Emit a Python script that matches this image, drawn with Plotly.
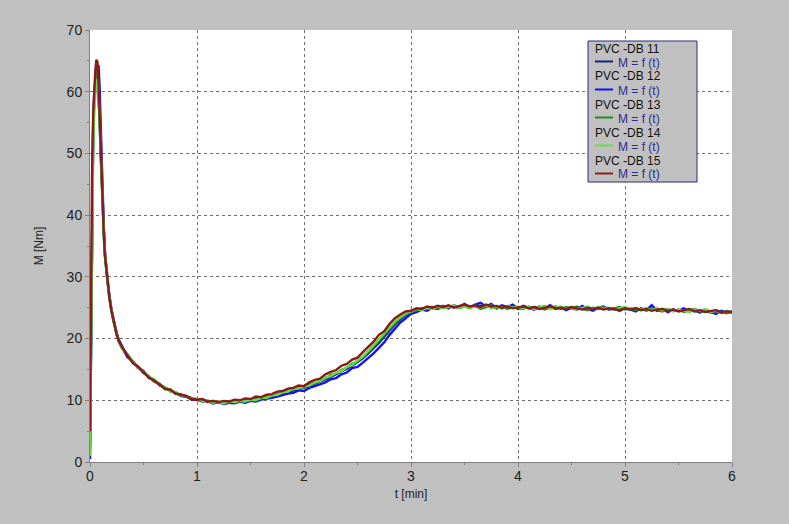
import plotly.graph_objects as go

# time axis [min]
t = [0, 0.01, 0.02, 0.03, 0.04, 0.05, 0.06, 0.07, 0.08, 0.09, 0.10, 0.11, 0.12, 0.13, 0.14,
     0.16, 0.18, 0.20, 0.22, 0.25, 0.27,
     0.30, 0.35, 0.40, 0.45, 0.50, 0.55, 0.60, 0.65, 0.70, 0.75, 0.80, 0.85, 0.90, 0.95,
     1.00, 1.05, 1.10, 1.15, 1.20, 1.25, 1.30, 1.35, 1.40, 1.45, 1.50, 1.55, 1.60, 1.65, 1.70, 1.75, 1.80, 1.85, 1.90, 1.95,
     2.00, 2.05, 2.10, 2.15, 2.20, 2.25, 2.30, 2.35, 2.40, 2.45, 2.50, 2.55, 2.60, 2.65, 2.70, 2.75, 2.80, 2.85, 2.90, 2.95,
     3.00, 3.05, 3.10, 3.15, 3.20, 3.25, 3.30, 3.35, 3.40, 3.45, 3.50, 3.55, 3.60, 3.65, 3.70, 3.75, 3.80, 3.85, 3.90, 3.95,
     4.00, 4.05, 4.10, 4.15, 4.20, 4.25, 4.30, 4.35, 4.40, 4.45, 4.50, 4.55, 4.60, 4.65, 4.70, 4.75, 4.80, 4.85, 4.90, 4.95,
     5.00, 5.05, 5.10, 5.15, 5.20, 5.25, 5.30, 5.35, 5.40, 5.45, 5.50, 5.55, 5.60, 5.65, 5.70, 5.75, 5.80, 5.85, 5.90, 5.95,
     6.00]

db11 = [3.0, 25.0, 46.0, 55.0, 60.0, 62.5, 64.0, 63.5, 60.5, 55.5, 50.0, 45.0, 40.5, 36.5, 33.5, 29.8, 26.8, 24.6, 22.8, 20.6, 19.6,
        18.5, 17.1, 16.2, 15.3, 14.5, 13.8, 13.1, 12.6, 12.0, 11.6, 11.2, 10.8, 10.6, 10.3,
        10.1, 9.9, 9.9, 9.7, 9.7, 9.6, 9.7, 9.7, 9.9, 9.8, 10.0, 10.0, 10.2, 10.4, 10.6, 10.8, 11.1, 11.3, 11.6, 11.8,
        12.1, 12.3, 12.7, 13.0, 13.4, 13.8, 14.2, 14.6, 15.1, 15.6, 16.2, 16.8, 17.6, 18.4, 19.3, 20.3, 21.3, 22.3, 23.1, 23.8,
        24.2, 24.6, 24.8, 24.9, 25.1, 25.0, 25.2, 25.1, 25.3, 25.1, 25.3, 25.2, 25.2, 25.3, 25.1, 25.3, 25.0, 25.2, 25.0, 25.2,
        25.0, 25.1, 24.9, 25.1, 24.9, 25.0, 25.1, 24.9, 25.0, 24.9, 25.0, 24.8, 25.0, 24.9, 24.8, 24.9, 24.9, 24.8, 24.8, 24.7,
        24.9, 24.7, 24.8, 24.7, 24.7, 24.8, 24.6, 24.7, 24.6, 24.6, 24.6, 24.5, 24.6, 24.5, 24.4, 24.5, 24.4, 24.4, 24.3, 24.3,
        24.2]

db12 = [0.5, 20.0, 42.0, 53.0, 58.5, 61.5, 63.0, 63.8, 64.3, 60.5, 54.0, 47.5, 42.0, 37.5, 34.0, 30.0, 27.0, 24.8, 23.0, 20.8, 19.8,
        18.8, 17.0, 16.4, 15.2, 14.8, 13.6, 13.3, 12.4, 12.1, 11.5, 11.3, 10.7, 10.6, 10.1,
        10.2, 9.8, 9.9, 9.5, 9.7, 9.4, 9.6, 9.5, 9.8, 9.6, 9.9, 9.8, 10.1, 10.2, 10.4, 10.6, 10.9, 11.1, 11.2, 11.6,
        11.5, 12.0, 12.3, 12.6, 12.9, 13.4, 13.6, 14.2, 14.5, 15.2, 15.4, 16.1, 16.8, 17.6, 18.5, 19.4, 20.6, 21.6, 22.6, 23.3,
        24.0, 24.3, 24.7, 24.5, 25.0, 24.8, 25.3, 24.9, 25.4, 25.1, 25.6, 25.0, 25.5, 25.8, 25.2, 25.6, 24.9, 25.4, 25.1, 25.5,
        24.8, 25.3, 25.0, 24.7, 25.2, 24.9, 25.4, 24.8, 25.1, 24.6, 25.0, 24.7, 25.3, 24.8, 24.5, 25.0, 25.2, 24.7, 24.9, 24.5,
        25.0, 24.7, 24.4, 24.9, 24.6, 25.4, 24.5, 24.8, 24.3, 24.7, 24.5, 24.9, 24.4, 24.6, 24.2, 24.7, 24.4, 24.0, 24.5, 24.2,
        24.4]

db13 = [2.0, 24.0, 45.0, 54.5, 59.0, 62.0, 63.5, 62.5, 59.5, 55.0, 49.5, 44.5, 40.0, 36.2, 33.2, 29.6, 26.6, 24.4, 22.6, 20.5, 19.4,
        18.4, 17.4, 16.0, 15.5, 14.4, 13.9, 13.0, 12.7, 11.8, 11.8, 11.0, 11.0, 10.5, 10.4,
        10.0, 10.1, 9.7, 9.9, 9.6, 9.8, 9.6, 9.9, 9.7, 10.0, 10.0, 10.2, 10.3, 10.6, 10.7, 11.1, 11.2, 11.6, 11.7, 12.1,
        12.0, 12.6, 12.8, 13.2, 13.5, 14.1, 14.3, 14.9, 15.3, 15.9, 16.3, 17.0, 17.8, 18.7, 19.6, 20.6, 21.6, 22.5, 23.3, 23.9,
        24.3, 24.6, 24.9, 24.8, 25.1, 24.9, 25.2, 25.0, 25.3, 24.9, 25.2, 25.0, 25.3, 24.8, 25.1, 25.4, 24.9, 25.2, 24.8, 25.1,
        25.0, 24.8, 25.2, 24.9, 25.1, 24.7, 25.0, 25.2, 24.8, 25.1, 24.9, 25.2, 24.8, 24.6, 25.0, 24.8, 25.1, 24.7, 24.9, 25.1,
        24.7, 24.9, 24.6, 24.8, 24.5, 24.9, 24.6, 24.4, 24.8, 24.5, 24.7, 24.3, 24.6, 24.8, 24.4, 24.5, 24.2, 24.6, 24.3, 24.1,
        24.4]

db14 = [1.0, 18.0, 40.0, 51.0, 57.0, 60.5, 62.0, 61.8, 60.0, 56.0, 50.5, 45.5, 41.0, 37.0, 33.8, 30.0, 27.0, 24.7, 22.9, 20.7, 19.5,
        18.3, 17.5, 16.3, 15.1, 14.7, 13.8, 13.4, 12.5, 12.2, 11.4, 11.3, 10.8, 10.7, 10.3,
        10.3, 9.9, 10.0, 9.6, 9.8, 9.5, 9.9, 9.7, 10.0, 9.8, 10.1, 10.0, 10.4, 10.4, 10.8, 10.9, 11.3, 11.4, 11.9, 11.9,
        12.3, 12.4, 12.9, 13.1, 13.7, 13.9, 14.5, 14.7, 15.4, 15.7, 16.5, 17.1, 18.0, 18.9, 19.9, 20.9, 21.9, 22.8, 23.5, 24.1,
        24.4, 24.8, 24.6, 25.0, 24.8, 25.2, 24.9, 25.1, 25.4, 25.0, 25.2, 24.9, 25.3, 25.0, 25.4, 24.9, 25.2, 24.8, 25.3, 25.0,
        25.2, 24.9, 25.1, 24.8, 25.0, 25.3, 24.8, 25.0, 25.2, 24.9, 25.1, 24.7, 25.0, 25.2, 24.8, 25.1, 24.8, 25.0, 24.7, 24.9,
        25.1, 24.8, 25.0, 24.7, 24.9, 24.6, 24.9, 24.6, 24.8, 24.4, 24.7, 24.5, 24.3, 24.7, 24.5, 24.8, 24.3, 24.5, 24.1, 24.5,
        24.3]

db15 = [5.0, 28.0, 48.0, 56.5, 61.0, 63.5, 65.2, 64.8, 61.5, 56.0, 50.5, 45.0, 40.5, 36.5, 33.5, 29.8, 26.8, 24.6, 22.8, 20.6, 19.6,
        18.6, 17.3, 16.1, 15.4, 14.6, 13.7, 13.2, 12.6, 11.9, 11.7, 11.1, 10.9, 10.7, 10.2,
        10.1, 10.2, 9.8, 9.9, 9.7, 9.9, 9.8, 10.1, 10.0, 10.3, 10.2, 10.6, 10.5, 10.9, 11.0, 11.4, 11.5, 11.9, 12.0, 12.4,
        12.3, 12.9, 13.3, 13.5, 14.2, 14.6, 14.9, 15.6, 15.9, 16.6, 16.9, 17.8, 18.6, 19.5, 20.6, 21.2, 22.4, 23.3, 23.9, 24.4,
        24.5, 24.9, 24.8, 25.2, 25.0, 25.3, 25.1, 25.4, 25.0, 25.3, 25.5, 25.2, 25.4, 25.1, 25.5, 25.2, 25.3, 25.0, 25.2, 24.9,
        25.1, 25.2, 24.9, 25.1, 24.8, 25.0, 25.2, 24.9, 25.0, 24.8, 25.1, 24.9, 24.7, 25.0, 24.8, 25.0, 24.7, 24.9, 24.8, 24.6,
        24.9, 24.7, 24.9, 24.6, 24.8, 24.5, 24.7, 24.8, 24.5, 24.7, 24.4, 24.6, 24.8, 24.4, 24.6, 24.3, 24.5, 24.6, 24.2, 24.4,
        24.3]

series_names = ["PVC -DB 11", "PVC -DB 12", "PVC -DB 13", "PVC -DB 14", "PVC -DB 15"]
series_values = [db11, db12, db13, db14, db15]
item_label = "M = f (t)"
colors = ["#1c1c7c", "#1010ff", "#2a8a2a", "#66dd44", "#8b1a1a"]

FONT = "Arial, Liberation Sans, sans-serif"
W, H = 789, 524
ML, MR, MT, MB = 90, 57, 30, 62
PW, PH = W - ML - MR, H - MT - MB


def px(xp):
    return (xp - ML) / PW


def py(yp):
    return (H - MB - yp) / PH


fig = go.Figure()
for name, vals, col in zip(series_names, series_values, colors):
    fig.add_trace(go.Scatter(
        x=t, y=vals, mode="lines", name=name + " " + item_label,
        line=dict(color=col, width=2.4),
        showlegend=False,
    ))

axis_common = dict(
    showline=True, linecolor="#808080", linewidth=1,
    ticks="outside", ticklen=4, tickcolor="#808080", tickwidth=1,
    showgrid=True, gridcolor="#707070", griddash="dot", gridwidth=1,
    zeroline=False,
    tickfont=dict(family=FONT, size=14, color="#222222"),
)

fig.update_xaxes(range=[0, 6], dtick=1, tick0=0,
                 title=dict(text="t [min]", font=dict(family=FONT, size=12, color="#222222"), standoff=6),
                 minor=dict(dtick=0.5, ticks="outside", ticklen=2, tickcolor="#808080", showgrid=False),
                 ticklabelstandoff=-3,
                 **axis_common)
fig.update_yaxes(range=[0, 70], dtick=10, tick0=0,
                 title=dict(text="M [Nm]", font=dict(family=FONT, size=12, color="#222222"), standoff=20),
                 minor=dict(dtick=5, ticks="outside", ticklen=2, tickcolor="#808080", showgrid=False),
                 **axis_common)

# legend box drawn as annotations (layout decoration, not data)
box_l, box_t, box_r, box_b = 588, 41, 697, 182
annotations = []
shapes = [dict(type="rect", xref="paper", yref="paper",
               x0=px(box_l), x1=px(box_r), y0=py(box_b), y1=py(box_t),
               fillcolor="#c0c0c0", line=dict(color="#2a2a7a", width=1), layer="above")]
row_gap = 28.0
for i, (name, col) in enumerate(zip(series_names, colors)):
    y_title = 48.5 + row_gap * i
    y_item = 62.5 + row_gap * i
    annotations.append(dict(
        xref="paper", yref="paper", x=px(594), y=py(y_title), xanchor="left", yanchor="middle",
        text=name, showarrow=False, borderpad=0,
        font=dict(family=FONT, size=12, color="#111111")))
    annotations.append(dict(
        xref="paper", yref="paper", x=px(617), y=py(y_item), xanchor="left", yanchor="middle",
        text=item_label, showarrow=False, borderpad=0,
        font=dict(family=FONT, size=12, color="#2b2b8f")))
    shapes.append(dict(type="line", xref="paper", yref="paper",
                       x0=px(595), x1=px(613), y0=py(y_item - 1), y1=py(y_item - 1),
                       line=dict(color=col, width=2), layer="above"))

fig.update_layout(
    width=W, height=H,
    margin=dict(l=ML, r=MR, t=MT, b=MB),
    paper_bgcolor="#c0c0c0",
    plot_bgcolor="#ffffff",
    font=dict(family=FONT, size=12, color="#222222"),
    showlegend=False,
    annotations=annotations,
    shapes=shapes,
)

fig.write_html("out.html",
               config={"displayModeBar": False},
               post_script="document.body.style.margin='0';document.body.style.padding='0';")
